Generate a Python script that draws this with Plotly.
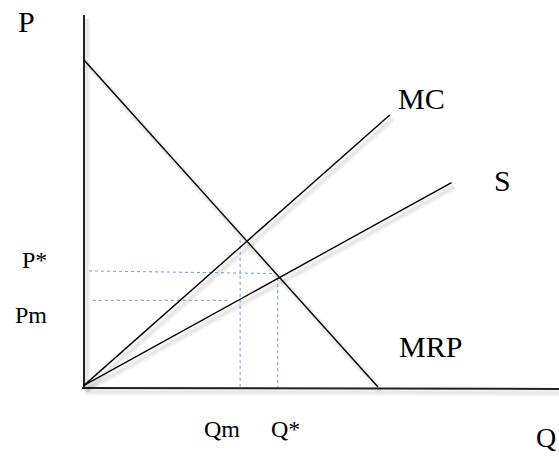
import plotly.graph_objects as go

# Factor market diagram: marginal revenue product, supply and marginal cost
q_mrp = [0.0, 10.0]
p_mrp = [10.0, 0.0]          # MRP: P = 10 - Q

q_mc = [0.0, 10.4]
p_mc = [0.05, 8.32]          # MC: P = 0.8 Q

q_s = [0.0, 12.5]
p_s = [0.05, 6.25]           # S: P = 0.5 Q

# Axes of the diagram
q_yaxis = [0.0, 0.0]
p_yaxis = [-0.03, 11.38]
q_xaxis = [-0.07, 16.2]
p_xaxis = [-0.03, -0.06]

# Dotted guide lines
q_pstar = [0.17, 6.44]
p_pstar = [3.55, 3.47]
q_pm = [0.30, 4.97]
p_pm = [2.65, 2.65]
q_qm = [5.31, 5.31]
p_qm = [4.50, -0.03]
q_qstar = [6.59, 6.59]
p_qstar = [3.33, -0.03]

# Text labels: (text, Q, P, size)
labels = [
    ("P", -1.95, 11.19, 30),
    ("MC", 11.49, 8.81, 30),
    ("S", 14.22, 6.30, 30),
    ("MRP", 11.80, 1.23, 30),
    ("Q", 15.70, -1.55, 28),
    ("P*", -1.70, 3.87, 24),
    ("Pm", -1.79, 2.20, 24),
    ("Qm", 4.71, -1.27, 24),
    ("Q*", 6.84, -1.27, 24),
]

W, H = 559, 457
X_RANGE = [-2.857, 16.156]
Y_RANGE = [-2.141, 11.835]
px_x = W / (X_RANGE[1] - X_RANGE[0])
px_y = H / (Y_RANGE[1] - Y_RANGE[0])
# shadow offset (right/down) in pixels
sdx, sdy = 3.0, 4.0
X2_RANGE = [X_RANGE[0] - sdx / px_x, X_RANGE[1] - sdx / px_x]
Y2_RANGE = [Y_RANGE[0] + sdy / px_y, Y_RANGE[1] + sdy / px_y]

fig = go.Figure()

solid = [(q_mrp, p_mrp), (q_mc, p_mc), (q_s, p_s)]
axes_lines = [(q_yaxis, p_yaxis), (q_xaxis, p_xaxis)]

# soft drop shadows on the shifted overlay axes
for qs, ps in solid + axes_lines:
    fig.add_trace(go.Scatter(x=qs, y=ps, mode="lines", xaxis="x2", yaxis="y2",
                             line=dict(color="rgba(0,0,0,0.045)", width=7),
                             hoverinfo="skip", showlegend=False))
    fig.add_trace(go.Scatter(x=qs, y=ps, mode="lines", xaxis="x2", yaxis="y2",
                             line=dict(color="rgba(0,0,0,0.05)", width=3),
                             hoverinfo="skip", showlegend=False))

for qs, ps in [(q_pstar, p_pstar), (q_pm, p_pm), (q_qm, p_qm), (q_qstar, p_qstar)]:
    fig.add_trace(go.Scatter(x=qs, y=ps, mode="lines",
                             line=dict(color="#6f9bd8", width=1, dash="dot"),
                             hoverinfo="skip", showlegend=False))

for qs, ps in axes_lines:
    fig.add_trace(go.Scatter(x=qs, y=ps, mode="lines",
                             line=dict(color="#222222", width=2),
                             hoverinfo="skip", showlegend=False))

for qs, ps in solid:
    fig.add_trace(go.Scatter(x=qs, y=ps, mode="lines",
                             line=dict(color="#000000", width=1.4),
                             hoverinfo="skip", showlegend=False))

for text, q, p, size in labels:
    fig.add_annotation(x=q, y=p, text=text, showarrow=False,
                       xanchor="center", yanchor="middle",
                       font=dict(family="Liberation Serif", size=size, color="#000000"))

hidden = dict(visible=False, showgrid=False, zeroline=False, fixedrange=True)
fig.update_layout(
    width=W, height=H,
    margin=dict(l=0, r=0, t=0, b=0),
    paper_bgcolor="white", plot_bgcolor="white",
    showlegend=False,
    xaxis=dict(range=X_RANGE, domain=[0, 1], **hidden),
    yaxis=dict(range=Y_RANGE, domain=[0, 1], **hidden),
    xaxis2=dict(range=X2_RANGE, overlaying="x", anchor="y2", **hidden),
    yaxis2=dict(range=Y2_RANGE, overlaying="y", anchor="x2", **hidden),
)

fig.write_html("out.html")
